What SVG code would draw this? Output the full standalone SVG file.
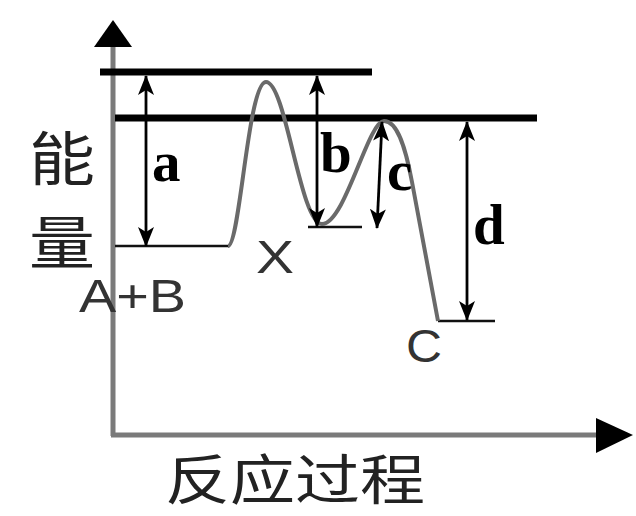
<svg xmlns="http://www.w3.org/2000/svg" width="636" height="516" viewBox="0 0 636 516">
<style>
.axis{stroke:#7a7a7a;stroke-width:5;fill:none}
.lvl{stroke:#000;stroke-width:7;fill:none}
.base{stroke:#111;stroke-width:2.5;fill:none}
.curve{stroke:#6a6a6a;stroke-width:4;fill:none;stroke-linejoin:round}
.arr{stroke:#000;stroke-width:2.8;fill:none;marker-start:url(#ah);marker-end:url(#ah)}
.lab{font-family:"Liberation Serif","Times New Roman",serif;font-weight:bold;font-size:57px;fill:#000}
.sp{font-family:"Liberation Sans",Arial,sans-serif;font-size:46px;fill:#333}
.cjk{font-family:"Noto Sans CJK SC","Noto Sans",sans-serif;fill:#222}
</style>
<defs>
<marker id="ah" viewBox="0 0 20 20" refX="19" refY="10" markerWidth="20" markerHeight="20" markerUnits="userSpaceOnUse" orient="auto-start-reverse">
<path d="M0,2 L20,10 L0,18 L5,10 Z" fill="#000"/>
</marker>
</defs>
<g id="axes">
<line class="axis" x1="113" y1="436" x2="113" y2="45"/>
<polygon points="94,47 132,47 113,20" fill="#000"/>
<line class="axis" x1="111" y1="435" x2="598" y2="435"/>
<polygon points="596,418 596,453 633,435" fill="#000"/>
</g>
<g id="levels">
<line class="lvl" x1="100" y1="72" x2="372" y2="72"/>
<line class="lvl" x1="115" y1="118" x2="537" y2="118"/>
<line class="base" x1="115" y1="246" x2="228" y2="246"/>
<line class="base" x1="308" y1="227" x2="362" y2="227"/>
<line class="base" x1="438" y1="321" x2="495" y2="321"/>
</g>
<g id="curve">
<path class="curve" d="M228,246 C240,246 248,82 266,82 C286,82 300,224 322,224 C345,224 368,121 384,121 C398,121 406,150 412,182 L438,321"/>
</g>
<g id="connectors">
<line class="arr" x1="146" y1="76" x2="146" y2="246"/>
<line class="arr" x1="317" y1="76" x2="317" y2="227"/>
<line class="arr" x1="382" y1="122" x2="377" y2="228"/>
<line class="arr" x1="467" y1="122" x2="467" y2="320"/>
</g>
<g id="labels">
<text class="lab" x="152" y="181">a</text>
<text class="lab" x="320" y="172">b</text>
<text class="lab" x="387" y="190">c</text>
<text class="lab" x="473" y="244">d</text>
<text class="sp" x="256" y="273" textLength="38" lengthAdjust="spacingAndGlyphs">X</text>
<text class="sp" x="79" y="312" textLength="107" lengthAdjust="spacingAndGlyphs">A+B</text>
<text class="sp" x="406" y="362" textLength="36" lengthAdjust="spacingAndGlyphs">C</text>
<text class="cjk" x="29" y="180" font-size="58" textLength="66" lengthAdjust="spacingAndGlyphs">能</text>
<text class="cjk" x="29" y="264" font-size="58" textLength="66" lengthAdjust="spacingAndGlyphs">量</text>
<text class="cjk" x="165" y="500" font-size="54" textLength="260" lengthAdjust="spacingAndGlyphs">反应过程</text>
</g>
</svg>
